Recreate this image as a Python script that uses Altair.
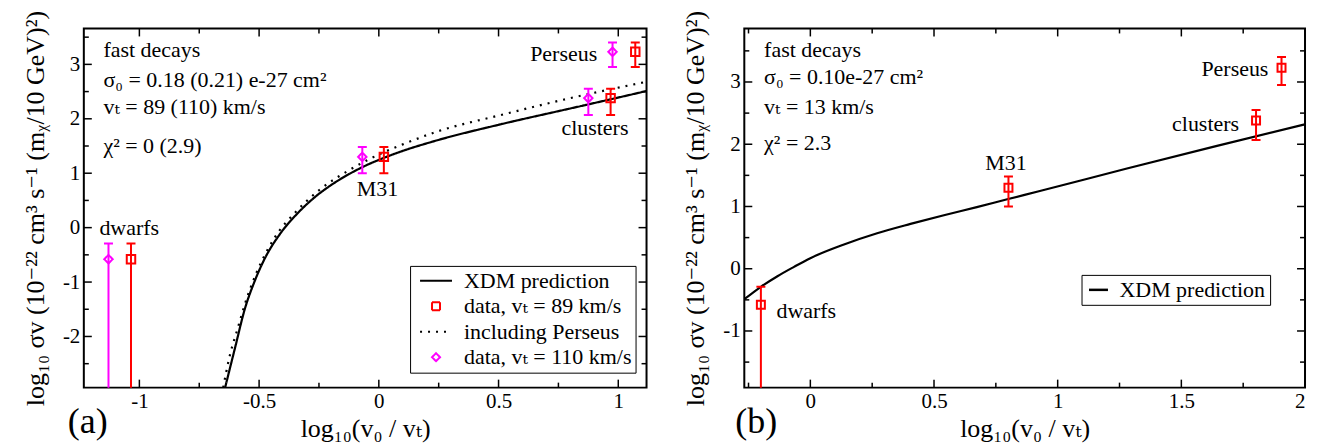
import altair as alt
import pandas as pd

FONT = "Liberation Serif, Tinos, Times New Roman, Times, DejaVu Serif, serif"

# ---------------- shared observations (log10 sigma v) ----------------
obs_names = ["dwarfs", "M31", "clusters", "Perseus"]
obs_y = [-0.58, 1.30, 2.38, 3.23]
obs_hi = [-0.29, 1.48, 2.55, 3.40]
obs_lo = [-6.0, 1.00, 2.07, 2.95]

# ---------------- panel (a) ----------------
a_series = ["XDM prediction", "data, vₜ = 89 km/s", "including Perseus", "data, vₜ = 110 km/s"]
a_x_vt89 = [-1.035, 0.021, 0.968, 1.071]
a_x_vt110 = [-1.129, -0.069, 0.875, 0.976]

a_xdm_x = [-0.642, -0.60, -0.56, -0.52, -0.48, -0.41, -0.34, -0.27, -0.20, -0.13,
           -0.06, 0.02, 0.10, 0.24, 0.51, 0.79, 0.96, 1.118]
a_xdm_y = [-2.94, -2.20, -1.50, -1.00, -0.60, -0.10, 0.26, 0.55, 0.78, 0.97,
           1.13, 1.28, 1.41, 1.60, 1.90, 2.18, 2.35, 2.51]
a_pers_x = [-0.650, -0.625, -0.59, -0.55, -0.51, -0.44, -0.34, -0.24, -0.13, -0.03,
            0.10, 0.24, 0.51, 0.79, 1.118]
a_pers_y = [-2.94, -2.40, -1.86, -1.28, -0.82, -0.22, 0.32, 0.72, 1.04, 1.28,
            1.53, 1.76, 2.07, 2.37, 2.68]

a_info_text = ["fast decays", "σ₀ = 0.18 (0.21) e-27 cm²", "vₜ = 89 (110) km/s", " χ² = 0 (2.9)"]
a_info_x = [-1.15, -1.15, -1.15, -1.15]
a_info_y = [3.14, 2.59, 2.08, 1.38]
a_lab_x = [-1.167, -0.092, 0.7625, 0.632]
a_lab_y = [-0.13, 0.58, 1.71, 3.06]

a_x_domain = [-1.232, 1.118]
a_y_domain = [-2.94, 3.66]
a_x_major = [-1, -0.5, 0, 0.5, 1]
a_x_minor = [-0.75, -0.25, 0.25, 0.75]
a_y_major = [-2, -1, 0, 1, 2, 3]
a_y_minor = [-2.5, -1.5, -0.5, 0.5, 1.5, 2.5, 3.5]

# ---------------- panel (b) ----------------
b_series = ["XDM prediction"]
b_x_vt13 = [-0.200, 0.801, 1.802, 1.905]
b_xdm_x = [-0.267, -0.20, -0.133, -0.066, 0.0, 0.136, 0.27, 0.405, 0.54, 0.673,
           0.80, 0.92, 1.28, 1.64, 2.0]
b_xdm_y = [-0.49, -0.29, -0.12, 0.03, 0.17, 0.39, 0.57, 0.72, 0.86, 0.99,
           1.12, 1.24, 1.61, 1.97, 2.32]
b_info_text = ["fast decays", "σ₀ = 0.10e-27 cm²", "vₜ = 13 km/s", " χ² = 2.3"]
b_info_x = [-0.187, -0.187, -0.187, -0.187]
b_info_y = [3.40, 2.96, 2.48, 1.91]
b_lab_x = [-0.137, 0.707, 1.4625, 1.581]
b_lab_y = [-0.79, 1.59, 2.21, 3.09]

b_x_domain = [-0.267, 2.0]
b_y_domain = [-1.91, 3.86]
b_x_major = [0, 0.5, 1, 1.5, 2]
b_x_minor = [-0.25, 0.25, 0.75, 1.25, 1.75]
b_y_major = [-1, 0, 1, 2, 3]
b_y_minor = [-1.5, -0.5, 0.5, 1.5, 2.5, 3.5]

X_TITLE = "log₁₀(v₀ / vₜ)"
Y_TITLE = "log₁₀ σv (10⁻²² cm³ s⁻¹ (mᵪ/10 GeV)²)"
LABEL_EXPR = "replace(format(datum.value, '~g'), '\u2212', '-')"

W_A, W_B, H = 564, 562, 360


def make_axes(x_major, y_major):
    ax = alt.Axis(values=x_major, title=X_TITLE, ticks=False, domain=False, grid=False,
                  labelPadding=3, titlePadding=4, labelExpr=LABEL_EXPR)
    ay = alt.Axis(values=y_major, title=Y_TITLE, ticks=False, domain=False, grid=False,
                  labelPadding=4, titlePadding=14, labelExpr=LABEL_EXPR)
    return ax, ay


def tick_layers(xs, ys, ax, ay, x_major, x_minor, y_major, y_minor, W):
    layers = []
    for vals, L in [(x_major, 8), (x_minor, 5)]:
        base = alt.Chart(pd.DataFrame({"v": vals})).mark_rule(color="black", strokeWidth=1.5)
        xe = alt.X("v:Q", scale=xs, axis=ax)
        layers.append(base.encode(x=xe, y=alt.value(H), y2=alt.value(H - L)))
        layers.append(base.encode(x=xe, y=alt.value(0), y2=alt.value(L)))
    for vals, L in [(y_major, 8), (y_minor, 5)]:
        base = alt.Chart(pd.DataFrame({"v": vals})).mark_rule(color="black", strokeWidth=1.5)
        ye = alt.Y("v:Q", scale=ys, axis=ay)
        layers.append(base.encode(y=ye, x=alt.value(0), x2=alt.value(L)))
        layers.append(base.encode(y=ye, x=alt.value(W), x2=alt.value(W - L)))
    return layers


def text_layer(xs, ys, ax, ay, tx, ty, texts, size=22):
    df = pd.DataFrame({"x": tx, "y": ty, "t": texts})
    return alt.Chart(df).mark_text(align="left", baseline="alphabetic", font=FONT,
                                   fontSize=size, color="black").encode(
        x=alt.X("x:Q", scale=xs, axis=ax), y=alt.Y("y:Q", scale=ys, axis=ay), text="t:N")


def caps(df, XE, ys, ay, field, **enc):
    return alt.Chart(df).mark_rule(strokeWidth=2, clip=True, xOffset=-4.5, x2Offset=4.5).encode(
        x=XE, x2="x:Q", y=alt.Y(field + ":Q", scale=ys, axis=ay), **enc)


# ================= panel (a) =================
xa = alt.Scale(domain=a_x_domain, nice=False, zero=False)
ya = alt.Scale(domain=a_y_domain, nice=False, zero=False)
ax_a, ay_a = make_axes(a_x_major, a_y_major)

cs_a = alt.Scale(domain=a_series, range=["black", "red", "black", "magenta"])
sh_a = alt.Scale(domain=a_series, range=["M-4,0H4", "square", "M-4,0H4", "diamond"])
ds_a = alt.Scale(domain=a_series, range=[[1, 0], [1, 0], [2, 6], [1, 0]])
legend_a = alt.Legend(orient="none", legendX=327, legendY=238, title=None,
                      labelFont=FONT, labelFontSize=22, labelLimit=500,
                      symbolSize=64, symbolStrokeWidth=2, symbolOffset=11, labelOffset=17,
                      symbolFillColor="transparent",
                      padding=4, rowPadding=3.5, strokeColor="black", fillColor="white")

lines_a = pd.DataFrame({
    "x": a_xdm_x + a_pers_x,
    "y": a_xdm_y + a_pers_y,
    "s": [a_series[0]] * len(a_xdm_x) + [a_series[2]] * len(a_pers_x),
})
pts_a = pd.DataFrame({
    "x": a_x_vt89 + a_x_vt110,
    "y": obs_y + obs_y,
    "hi": obs_hi + obs_hi,
    "lo": obs_lo + obs_lo,
    "s": [a_series[1]] * 4 + [a_series[3]] * 4,
})

XA = alt.X("x:Q", scale=xa, axis=ax_a)
col_a = alt.Color("s:N", scale=cs_a, legend=legend_a)
dash_a = alt.StrokeDash("s:N", scale=ds_a, legend=legend_a)
shape_a = alt.Shape("s:N", scale=sh_a, legend=legend_a)

line_a = alt.Chart(lines_a).mark_line(strokeWidth=2.2, clip=True, interpolate="monotone").encode(
    x=XA, y=alt.Y("y:Q", scale=ya, axis=ay_a), color=col_a, strokeDash=dash_a)
err_a = alt.Chart(pts_a).mark_rule(strokeWidth=2, clip=True).encode(
    x=XA, y=alt.Y("lo:Q", scale=ya, axis=ay_a), y2="hi:Q", color=col_a)
cap_hi_a = caps(pts_a, XA, ya, ay_a, "hi", color=col_a)
cap_lo_a = caps(pts_a, XA, ya, ay_a, "lo", color=col_a)
pt_a = alt.Chart(pts_a).mark_point(filled=False, strokeWidth=2, size=72, opacity=1).encode(
    x=XA, y=alt.Y("y:Q", scale=ya, axis=ay_a),
    color=col_a, shape=shape_a, strokeDash=dash_a)
info_a = text_layer(xa, ya, ax_a, ay_a, a_info_x, a_info_y, a_info_text)
lab_a = text_layer(xa, ya, ax_a, ay_a, a_lab_x, a_lab_y, obs_names)
tag_a = alt.Chart(pd.DataFrame({"t": ["(a)"]})).mark_text(
    align="left", baseline="alphabetic", font=FONT, fontSize=36, color="black").encode(
    x=alt.value(-16), y=alt.value(405), text="t:N")

panel_a = alt.layer(
    line_a, err_a, cap_hi_a, cap_lo_a, pt_a, info_a, lab_a, tag_a,
    *tick_layers(xa, ya, ax_a, ay_a, a_x_major, a_x_minor, a_y_major, a_y_minor, W_A)
).properties(width=W_A, height=H)

# ================= panel (b) =================
xb = alt.Scale(domain=b_x_domain, nice=False, zero=False)
yb = alt.Scale(domain=b_y_domain, nice=False, zero=False)
ax_b, ay_b = make_axes(b_x_major, b_y_major)
cs_b = alt.Scale(domain=b_series, range=["black"])

lines_b = pd.DataFrame({"x": b_xdm_x, "y": b_xdm_y, "s": b_series * len(b_xdm_x)})
pts_b = pd.DataFrame({"x": b_x_vt13, "y": obs_y, "hi": obs_hi, "lo": obs_lo})

legend_b = alt.Legend(orient="none", legendX=338, legendY=247, title=None,
                      labelFont=FONT, labelFontSize=22, labelLimit=500,
                      symbolType="stroke", symbolSize=361, symbolStrokeWidth=2.5,
                      symbolOffset=2, labelOffset=10, padding=4,
                      strokeColor="black", fillColor="white")
XB = alt.X("x:Q", scale=xb, axis=ax_b)
line_b = alt.Chart(lines_b).mark_line(strokeWidth=2.2, clip=True, interpolate="monotone").encode(
    x=XB, y=alt.Y("y:Q", scale=yb, axis=ay_b),
    color=alt.Color("s:N", scale=cs_b, legend=legend_b),
)
err_b = alt.Chart(pts_b).mark_rule(strokeWidth=2, clip=True, color="red").encode(
    x=XB, y=alt.Y("lo:Q", scale=yb, axis=ay_b), y2="hi:Q")
cap_hi_b = caps(pts_b, XB, yb, ay_b, "hi", color=alt.value("red"))
cap_lo_b = caps(pts_b, XB, yb, ay_b, "lo", color=alt.value("red"))
pt_b = alt.Chart(pts_b).mark_point(filled=False, strokeWidth=2, size=64, shape="square",
                                   color="red", opacity=1).encode(
    x=XB, y=alt.Y("y:Q", scale=yb, axis=ay_b))
info_b = text_layer(xb, yb, ax_b, ay_b, b_info_x, b_info_y, b_info_text)
lab_b = text_layer(xb, yb, ax_b, ay_b, b_lab_x, b_lab_y, obs_names)
tag_b = alt.Chart(pd.DataFrame({"t": ["(b)"]})).mark_text(
    align="left", baseline="alphabetic", font=FONT, fontSize=36, color="black").encode(
    x=alt.value(-9), y=alt.value(405), text="t:N")

panel_b = alt.layer(
    line_b, err_b, cap_hi_b, cap_lo_b, pt_b, info_b, lab_b, tag_b,
    *tick_layers(xb, yb, ax_b, ay_b, b_x_major, b_x_minor, b_y_major, b_y_minor, W_B)
).properties(width=W_B, height=H)

chart = alt.hconcat(panel_a, panel_b, spacing=98, bounds="flush").resolve_scale(
    color="independent", shape="independent", strokeDash="independent",
    x="independent", y="independent"
).resolve_legend(color="independent", shape="independent", strokeDash="independent").properties(
    padding={"left": 13, "top": 0, "right": 5, "bottom": 0}
).configure(font=FONT).configure_view(stroke="black", strokeWidth=2).configure_axis(
    labelFont=FONT, labelFontSize=21, labelColor="black",
    titleFont=FONT, titleFontSize=26, titleFontWeight="normal", titleColor="black",
).configure_legend(labelColor="black", labelFont=FONT).configure_text(font=FONT)

chart.save("out.html", embed_options={"renderer": "svg", "actions": False})
